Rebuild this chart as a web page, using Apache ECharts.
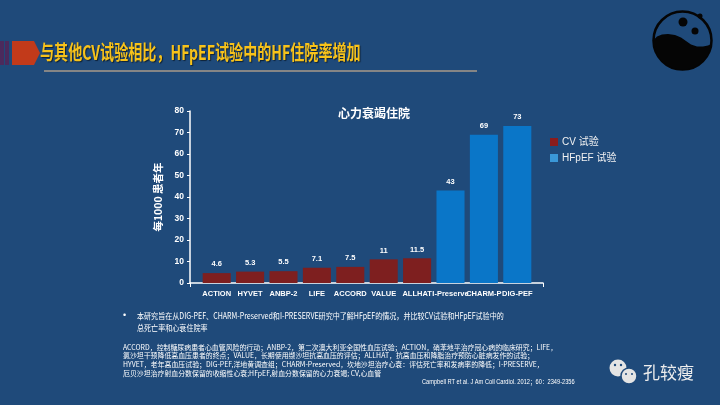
<!DOCTYPE html>
<html>
<head>
<meta charset="utf-8">
<script src="https://cdn.jsdelivr.net/npm/echarts@6/dist/echarts.min.js"></script>
<style>
html,body{margin:0;padding:0;background:#1F4A7A;}
#main{width:720px;height:405px;}
</style>
</head>
<body>
<div id="main"></div>
<script>
const categories = ['ACTION','HYVET','ANBP-2','LIFE','ACCORD','VALUE','ALLHAT','I-Preserve','CHARM-P','DIG-PEF'];
const cvValues = [4.6, 5.3, 5.5, 7.1, 7.5, 11, 11.5, null, null, null];
const hfpefValues = [null, null, null, null, null, null, null, 43, 69, 73];
const seriesNames = ['CV 试验', 'HFpEF 试验'];
const yMin = 0, yMax = 80, yStep = 10;

const titleText = '与其他CV试验相比，HFpEF试验中的HF住院率增加';
const chartTitle = '心力衰竭住院';
const yAxisName = '每1000 患者年';
const bulletLines = ['本研究旨在从DIG-PEF、CHARM-Preserved和I-PRESERVE研究中了解HFpEF的情况，并比较CV试验和HFpEF试验中的', '总死亡率和心衰住院率'];
const noteLines = [
 'ACCORD，控制糖尿病患者心血管风险的行动；ANBP-2，第二次澳大利亚全国性血压试验；ACTION，硝苯地平治疗冠心病的临床研究；LIFE，',
 '氯沙坦干预降低高血压患者的终点；VALUE，长期使用缬沙坦抗高血压的评估；ALLHAT，抗高血压和降脂治疗预防心脏病发作的试验；',
 'HYVET，老年高血压试验；DIG-PEF,洋地黄调查组；CHARM-Preserved，坎地沙坦治疗心衰：评估死亡率和发病率的降低；I-PRESERVE，',
 '厄贝沙坦治疗射血分数保留的收缩性心衰;HFpEF,射血分数保留的心力衰竭; CV,心血管'
];
const citation = 'Campbell RT et al. J Am Coll Cardiol. 2012；60：2349-2356';

const FONT = 'Arial, "Liberation Sans", "Noto Sans CJK SC", sans-serif';
const CJK = '"Noto Sans CJK SC", sans-serif';

const chart = echarts.init(document.getElementById('main'), null, {renderer:'canvas'});

// logo blob outline (decoration)
const LCX = 682.5, LCY = 40.5, LR = 29;
const blobPts = [[653.6,40],[657,36.5],[662,34.5],[668,34],[675,35],[681,37.5],[686,41],[691,44.5],[697,46.5],[703,46.5],[708,45.5],[711.3,44]];
const a0 = Math.atan2(44 - LCY, 711.3 - LCX), a1 = Math.PI - 0.02;
for (let i = 1; i < 30; i++) {
  const a = a0 + (a1 - a0) * i / 30;
  blobPts.push([LCX + LR * Math.cos(a), LCY + LR * Math.sin(a)]);
}

const graphics = [
  {type:'rect', shape:{x:0,y:41,width:4,height:24}, style:{fill:'#4B2A5C'}},
  {type:'rect', shape:{x:5,y:41,width:4,height:24}, style:{fill:'#4B2A5C'}},
  {type:'polygon', shape:{points:[[12,41],[34,41],[40,53],[34,65],[12,65]]}, style:{fill:'#C23A1A'}},
  {type:'rect', shape:{x:44,y:70,width:433,height:2}, style:{fill:'#858585'}},
  {type:'text', x:40, y:52, scaleX:0.88, scaleY:1.25, style:{text:titleText, fill:'#F7C21A', font:'bold 16px ' + CJK, textVerticalAlign:'middle', textShadowColor:'rgba(0,0,0,0.55)', textShadowOffsetX:1, textShadowOffsetY:1, textShadowBlur:1}},
  // logo
  {type:'circle', shape:{cx:LCX, cy:LCY, r:LR}, style:{fill:'#1F4A7A', stroke:'#050505', lineWidth:2.5}},
  {type:'polygon', shape:{points:blobPts}, style:{fill:'#050505'}},
  {type:'circle', shape:{cx:683, cy:22, r:4.5}, style:{fill:'#050505'}},
  {type:'circle', shape:{cx:695, cy:31, r:3.5}, style:{fill:'#050505'}},
  {type:'circle', shape:{cx:700, cy:16, r:2.5}, style:{fill:'#050505'}},
  // bullet text
  {type:'text', x:123, y:316, style:{text:'•', fill:'#FFFFFF', font:'9px ' + FONT, textVerticalAlign:'middle'}},
  {type:'text', x:137, y:316, scaleX:0.83, style:{text:bulletLines[0], fill:'#FFFFFF', font:'8.5px ' + CJK, textVerticalAlign:'middle'}},
  {type:'text', x:137, y:328, scaleX:0.83, style:{text:bulletLines[1], fill:'#FFFFFF', font:'8.5px ' + CJK, textVerticalAlign:'middle'}},
  {type:'text', x:123, y:347, scaleX:0.96, style:{text:noteLines[0], fill:'#FFFFFF', font:'7.2px ' + CJK, textVerticalAlign:'middle'}},
  {type:'text', x:123, y:355.5, scaleX:0.96, style:{text:noteLines[1], fill:'#FFFFFF', font:'7.2px ' + CJK, textVerticalAlign:'middle'}},
  {type:'text', x:123, y:364, scaleX:0.96, style:{text:noteLines[2], fill:'#FFFFFF', font:'7.2px ' + CJK, textVerticalAlign:'middle'}},
  {type:'text', x:123, y:373, scaleX:0.96, style:{text:noteLines[3], fill:'#FFFFFF', font:'7.2px ' + CJK, textVerticalAlign:'middle'}},
  {type:'text', x:422, y:382, scaleX:0.9, style:{text:citation, fill:'#FFFFFF', font:'6.3px ' + FONT, textVerticalAlign:'middle'}},
  // watermark
  {type:'circle', shape:{cx:618, cy:368, r:8.5}, style:{fill:'#E4E4E4'}},
  {type:'circle', shape:{cx:629, cy:376, r:8}, style:{fill:'#E4E4E4', stroke:'#1F4A7A', lineWidth:1.5}},
  {type:'circle', shape:{cx:615, cy:365, r:1.2}, style:{fill:'#1F4A7A'}},
  {type:'circle', shape:{cx:621, cy:365, r:1.2}, style:{fill:'#1F4A7A'}},
  {type:'circle', shape:{cx:626, cy:374, r:1}, style:{fill:'#1F4A7A'}},
  {type:'circle', shape:{cx:632, cy:374, r:1}, style:{fill:'#1F4A7A'}},
  {type:'text', x:643, y:373, style:{text:'孔较瘦', fill:'#EDEDED', font:'17px ' + CJK, textVerticalAlign:'middle'}}
];

chart.setOption({
  backgroundColor:'#1F4A7A',
  animation:false,
  title:{text:chartTitle, left:333, top:102, textStyle:{color:'#FFFFFF', fontSize:12, fontWeight:'bold', fontFamily:CJK}},
  legend:{
    orient:'vertical', left:545, top:132, itemWidth:8, itemHeight:8, itemGap:6,
    textStyle:{color:'#F2F2F2', fontSize:10, fontFamily:FONT, padding:[0,0,0,-1]},
    data:[{name:seriesNames[0], icon:'rect', itemStyle:{color:'#8A1C1C'}}, {name:seriesNames[1], icon:'rect', itemStyle:{color:'#3A98D8'}}]
  },
  grid:[
    {left:190, right:177, top:111, bottom:122, containLabel:false},
    {left:200, right:186, top:111, bottom:122, containLabel:false}
  ],
  xAxis:[
    {type:'value', gridIndex:0, min:0, max:1, interval:1,
     axisLine:{show:true, onZero:false, lineStyle:{color:'#FFFFFF', width:1.5}},
     axisTick:{show:true, length:4, lineStyle:{color:'#FFFFFF'}},
     axisLabel:{show:false}, splitLine:{show:false}},
    {type:'category', gridIndex:1, data:categories,
     axisLine:{show:false},
     axisTick:{show:false},
     axisLabel:{color:'#FFFFFF', fontSize:7.5, fontWeight:'bold', fontFamily:FONT, interval:0, margin:7}}
  ],
  yAxis:[
    {type:'value', gridIndex:0, min:yMin, max:yMax, interval:yStep,
     name:yAxisName, nameLocation:'middle', nameGap:27, nameRotate:90,
     nameTextStyle:{color:'#FFFFFF', fontSize:10.5, fontWeight:'bold', fontFamily:CJK},
     axisLine:{show:true, lineStyle:{color:'#FFFFFF', width:1.5}},
     axisTick:{show:true, length:3, lineStyle:{color:'#FFFFFF'}},
     splitLine:{show:false},
     axisLabel:{color:'#FFFFFF', fontSize:8.5, fontWeight:'bold', fontFamily:FONT, margin:6}},
    {type:'value', gridIndex:1, min:yMin, max:yMax, interval:yStep, show:false, splitLine:{show:false}}
  ],
  series:[
    {name:seriesNames[0], type:'bar', xAxisIndex:1, yAxisIndex:1, stack:'s', data:cvValues, barCategoryGap:'16%', itemStyle:{color:'#7E1F1F'},
     label:{show:true, position:'top', color:'#FFFFFF', fontSize:7.5, fontWeight:'bold', fontFamily:FONT, distance:5}},
    {name:seriesNames[1], type:'bar', xAxisIndex:1, yAxisIndex:1, stack:'s', data:hfpefValues, barCategoryGap:'16%', itemStyle:{color:'#0A76C8'},
     label:{show:true, position:'top', color:'#FFFFFF', fontSize:7.5, fontWeight:'bold', fontFamily:FONT, distance:5}}
  ],
  graphic:graphics
});
</script>
</body>
</html>
